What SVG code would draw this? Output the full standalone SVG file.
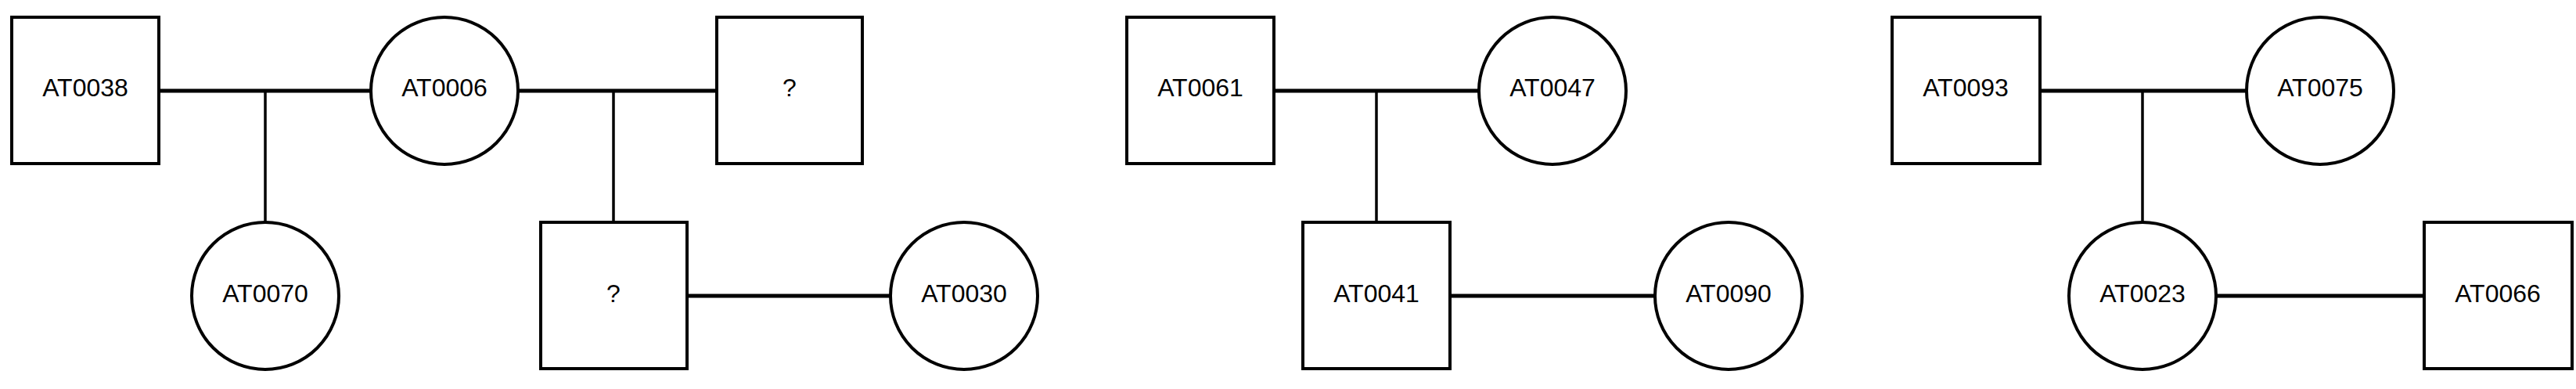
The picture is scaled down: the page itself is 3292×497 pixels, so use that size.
<svg xmlns="http://www.w3.org/2000/svg" width="3292" height="497" viewBox="0 0 3292 497">
<style>
.n{fill:#fff;stroke:#000;stroke-width:4}
.t{font-family:"Liberation Sans",Arial,sans-serif;font-size:32px;text-anchor:middle;dominant-baseline:central;fill:#000}
.h{stroke:#000;stroke-width:5;fill:none}
.v{stroke:#000;stroke-width:3.5;fill:none}
</style>
<rect width="3292" height="497" fill="#fff"/>
<g id="connectors">
<line class="h" x1="203" y1="116" x2="474" y2="116"/>
<line class="v" x1="339" y1="116" x2="339" y2="284"/>
<line class="h" x1="662" y1="116" x2="916" y2="116"/>
<line class="v" x1="784" y1="116" x2="784" y2="284"/>
<line class="h" x1="878" y1="378" x2="1138" y2="378"/>
<line class="h" x1="1628" y1="116" x2="1890" y2="116"/>
<line class="v" x1="1759" y1="116" x2="1759" y2="284"/>
<line class="h" x1="1853" y1="378" x2="2115" y2="378"/>
<line class="h" x1="2607" y1="116" x2="2871" y2="116"/>
<line class="v" x1="2738" y1="116" x2="2738" y2="284"/>
<line class="h" x1="2832" y1="378" x2="3098" y2="378"/>
</g>
<g id="AT0038"><rect class="n" x="15" y="22" width="188" height="187"/><text class="t" x="109" y="112">AT0038</text></g>
<g id="AT0006"><circle class="n" cx="568" cy="116" r="94"/><text class="t" x="568" y="112">AT0006</text></g>
<g id="U1"><rect class="n" x="916" y="22" width="186" height="187"/><text class="t" x="1009" y="112">?</text></g>
<g id="AT0070"><circle class="n" cx="339" cy="378" r="94"/><text class="t" x="339" y="375">AT0070</text></g>
<g id="U2"><rect class="n" x="691" y="284" width="187" height="187"/><text class="t" x="784" y="375">?</text></g>
<g id="AT0030"><circle class="n" cx="1232" cy="378" r="94"/><text class="t" x="1232" y="375">AT0030</text></g>
<g id="AT0061"><rect class="n" x="1440" y="22" width="188" height="187"/><text class="t" x="1534" y="112">AT0061</text></g>
<g id="AT0047"><circle class="n" cx="1984" cy="116" r="94"/><text class="t" x="1984" y="112">AT0047</text></g>
<g id="AT0041"><rect class="n" x="1665" y="284" width="188" height="187"/><text class="t" x="1759" y="375">AT0041</text></g>
<g id="AT0090"><circle class="n" cx="2209" cy="378" r="94"/><text class="t" x="2209" y="375">AT0090</text></g>
<g id="AT0093"><rect class="n" x="2418" y="22" width="189" height="187"/><text class="t" x="2512" y="112">AT0093</text></g>
<g id="AT0075"><circle class="n" cx="2965" cy="116" r="94"/><text class="t" x="2965" y="112">AT0075</text></g>
<g id="AT0023"><circle class="n" cx="2738" cy="378" r="94"/><text class="t" x="2738" y="375">AT0023</text></g>
<g id="AT0066"><rect class="n" x="3098" y="284" width="189" height="187"/><text class="t" x="3192" y="375">AT0066</text></g>
</svg>
